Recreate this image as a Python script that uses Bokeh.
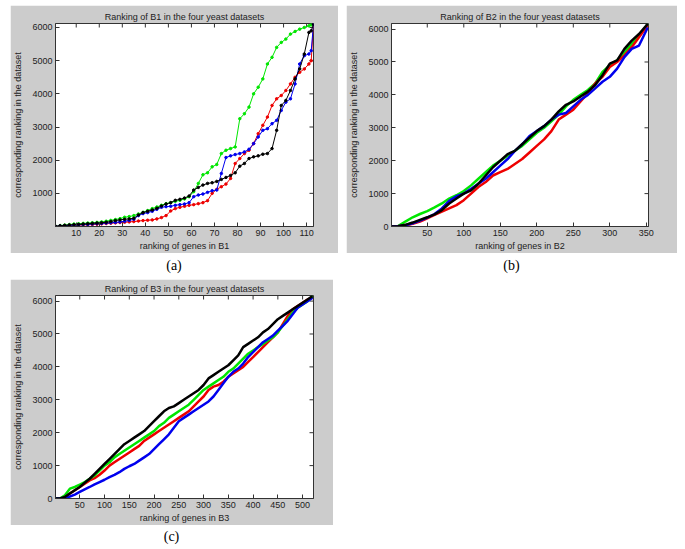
import math
from bokeh.plotting import figure
from bokeh.models import FixedTicker, Range1d, Div, Spacer
from bokeh.layouts import column, row
from bokeh.embed import file_html
from bokeh.resources import INLINE

GRAY = "#cccccc"
AX = "#333333"
FONT = "Liberation Sans"

# ---------------- Panel (a): B1 (113 genes) ----------------
a_x = [1, 3, 5, 7, 9, 11, 13, 15, 17, 19, 21, 23, 25, 27, 29, 31, 33, 35, 37, 39,
       41, 43, 45, 47, 49, 51, 53, 55, 57, 59, 61, 63, 65, 67, 69, 71, 73, 75, 77, 79,
       81, 83, 85, 87, 89, 91, 93, 95, 97, 99, 101, 103, 105, 107, 109, 111, 112, 113]
a_green = [10, 30, 45, 60, 75, 85, 95, 105, 115, 125, 140, 160, 185, 210, 240, 280, 300, 330, 380, 430,
           480, 540, 590, 640, 690, 720, 760, 790, 830, 900, 1050, 1300, 1560, 1620, 1800, 1870, 2200, 2300, 2350, 2400,
           3250, 3400, 3600, 4000, 4200, 4450, 4900, 5100, 5400, 5550, 5650, 5800, 5880, 5950, 6000, 6050, 6080, 6110]
a_red = [5, 15, 25, 35, 40, 45, 50, 55, 60, 70, 80, 90, 100, 110, 120, 130, 140, 150, 165, 180,
         190, 200, 230, 270, 330, 470, 540, 580, 610, 640, 660, 690, 720, 780, 1000, 1120, 1200, 1280, 1450, 1900,
         2050, 2200, 2300, 2500, 2800, 3050, 3300, 3650, 3850, 3950, 4100, 4300, 4500, 4650, 4750, 4900, 5000, 6100]
a_blue = [5, 15, 25, 35, 45, 50, 60, 65, 75, 85, 95, 105, 115, 125, 140, 160, 185, 220, 330, 390,
          420, 460, 520, 580, 600, 610, 640, 660, 680, 720, 900, 950, 980, 1030, 1080, 1100, 1600, 2080, 2130, 2170,
          2200, 2250, 2330, 2500, 2700, 2900, 2950, 3100, 3200, 3500, 3750, 3850, 4300, 4900, 5150, 5200, 5300, 6100]
a_black = [5, 20, 35, 45, 55, 65, 75, 85, 95, 105, 115, 130, 150, 180, 200, 220, 230, 250, 350, 420,
           460, 500, 550, 620, 680, 720, 790, 820, 860, 920, 1100, 1180, 1250, 1300, 1320, 1360, 1420, 1480, 1540, 1620,
           1820, 1900, 2050, 2100, 2130, 2180, 2200, 2350, 2900, 3650, 3800, 4100, 4450, 4750, 5200, 5850, 5900, 6100]

# ---------------- Panel (b): B2 (352 genes) ----------------
b_x = [1, 10, 20, 30, 40, 50, 60, 70, 80, 90, 100, 110, 120, 130, 140, 150, 160, 170, 180, 190,
       200, 210, 220, 230, 240, 250, 260, 270, 280, 290, 300, 310, 320, 330, 340, 352]
b_green = [0, 10, 150, 280, 380, 470, 580, 700, 850, 950, 1080, 1250, 1450, 1650, 1850, 2000, 2150, 2300, 2450, 2650,
           2850, 3000, 3200, 3400, 3650, 3850, 4000, 4150, 4350, 4700, 4900, 5050, 5300, 5550, 5800, 6150]
b_black = [0, 10, 50, 120, 200, 280, 370, 500, 700, 850, 1000, 1100, 1300, 1550, 1800, 2000, 2200, 2300, 2500, 2700,
           2900, 3050, 3250, 3500, 3700, 3800, 3950, 4100, 4300, 4600, 4950, 5050, 5400, 5650, 5850, 6160]
b_blue = [0, 10, 40, 100, 180, 270, 380, 550, 780, 920, 1000, 1150, 1300, 1450, 1650, 1850, 2050, 2300, 2500, 2750,
          2900, 3050, 3250, 3400, 3450, 3650, 3850, 4000, 4200, 4400, 4550, 4800, 5150, 5400, 5500, 6050]
b_red = [0, 5, 30, 80, 150, 250, 350, 450, 550, 650, 800, 1000, 1200, 1350, 1550, 1650, 1750, 1900, 2050, 2250,
         2450, 2650, 2900, 3250, 3400, 3550, 3800, 4050, 4350, 4550, 4850, 5000, 5200, 5450, 5750, 6120]

# ---------------- Panel (c): B3 (520 genes) ----------------
c_x = [1, 10, 20, 30, 40, 50, 60, 70, 80, 90, 100, 110, 120, 130, 140, 150, 160, 170, 180, 190,
       200, 210, 220, 230, 240, 250, 260, 270, 280, 290, 300, 310, 320, 330, 340, 350, 360, 370, 380, 390,
       400, 410, 420, 430, 440, 450, 460, 470, 480, 490, 500, 510, 520]
c_black = [0, 0, 50, 150, 250, 350, 480, 600, 750, 900, 1050, 1200, 1350, 1500, 1650, 1750, 1850, 1950, 2050, 2200,
           2350, 2500, 2650, 2750, 2800, 2900, 3000, 3100, 3200, 3300, 3450, 3650, 3750, 3850, 3950, 4050, 4200, 4350, 4600, 4700,
           4800, 4900, 5050, 5150, 5300, 5450, 5550, 5650, 5750, 5850, 5950, 6050, 6150]
c_green = [0, 0, 100, 300, 350, 420, 500, 600, 700, 850, 1000, 1100, 1250, 1350, 1450, 1550, 1650, 1750, 1850, 1950,
           2050, 2200, 2300, 2450, 2550, 2650, 2750, 2850, 3000, 3150, 3300, 3400, 3500, 3600, 3700, 3850, 3950, 4100, 4250, 4400,
           4500, 4600, 4700, 4800, 4900, 5050, 5250, 5450, 5650, 5800, 5900, 6000, 6150]
c_red = [0, 0, 50, 150, 250, 350, 450, 550, 620, 720, 850, 1000, 1100, 1200, 1300, 1400, 1500, 1600, 1750, 1850,
         1950, 2050, 2150, 2250, 2350, 2450, 2550, 2650, 2800, 2950, 3100, 3300, 3400, 3450, 3550, 3700, 3800, 3900, 4000, 4150,
         4300, 4450, 4600, 4750, 4900, 5050, 5300, 5550, 5750, 5850, 5950, 6050, 6100]
c_blue = [0, 0, 20, 60, 120, 200, 280, 350, 430, 500, 570, 650, 720, 800, 900, 980, 1050, 1150, 1250, 1350,
          1500, 1650, 1800, 1950, 2150, 2350, 2450, 2550, 2650, 2750, 2850, 2950, 3100, 3300, 3500, 3700, 3850, 3950, 4100, 4300,
          4450, 4600, 4750, 4850, 4950, 5100, 5250, 5400, 5600, 5800, 5900, 6000, 6100]

a_xticks = [10, 20, 30, 40, 50, 60, 70, 80, 90, 100, 110]
b_xticks = [50, 100, 150, 200, 250, 300, 350]
c_xticks = [50, 100, 150, 200, 250, 300, 350, 400, 450, 500]
a_yticks = [1000, 2000, 3000, 4000, 5000, 6000]
bc_yticks = [0, 1000, 2000, 3000, 4000, 5000, 6000]


def make_panel(title, xlabel, xr, yr, xticks, yticks, width, height, ml, mr, mt, mb):
    p = figure(output_backend="svg", toolbar_location=None, width=width, height=height,
               x_range=Range1d(*xr), y_range=Range1d(*yr),
               min_border_left=ml, min_border_right=mr, min_border_top=mt, min_border_bottom=mb,
               border_fill_color=GRAY, background_fill_color="white",
               outline_line_color=AX, outline_line_width=1)
    p.title.text = title
    p.title.text_font = FONT
    p.title.text_font_size = "9px"
    p.title.text_font_style = "normal"
    p.title.text_color = "#222222"
    p.title.align = "center"
    p.title.standoff = 4
    p.title.offset = 0
    p.xgrid.visible = False
    p.ygrid.visible = False
    for ax, ticks in ((p.xaxis[0], xticks), (p.yaxis[0], yticks)):
        ax.ticker = FixedTicker(ticks=ticks)
        ax.major_tick_in = 4
        ax.major_tick_out = 0
        ax.minor_tick_line_color = None
        ax.axis_line_color = AX
        ax.major_tick_line_color = AX
        ax.major_label_text_font = FONT
        ax.major_label_text_font_size = "9px"
        ax.major_label_text_color = "#222222"
        ax.major_label_standoff = 3
        ax.axis_label_text_font = FONT
        ax.axis_label_text_font_size = "9px"
        ax.axis_label_text_font_style = "normal"
        ax.axis_label_text_color = "#222222"
    p.xaxis[0].axis_label = xlabel
    p.xaxis[0].axis_label_standoff = 2
    p.yaxis[0].axis_label = "corresponding ranking in the dataset"
    p.yaxis[0].axis_label_standoff = 6
    # inward tick marks on the top and right edges of the box (MATLAB style)
    p.scatter(xticks, [yr[1]] * len(xticks), marker="dash", angle=math.pi / 2, size=8,
              line_color=AX, line_width=1)
    p.scatter([xr[1]] * len(yticks), yticks, marker="dash", size=8,
              line_color=AX, line_width=1)
    return p


def add_series(p, x, ys, colors, lw, markers):
    for y, c in zip(ys, colors):
        p.line(x, y, line_color=c, line_width=lw)
        if markers:
            p.scatter(x, y, size=2.5, color=c)


GREEN, RED, BLUE, BLACK = "#00e600", "#ee0000", "#0000ee", "#000000"

fa = make_panel("Ranking of B1 in the four yeast datasets", "ranking of genes in B1",
                (1, 113), (1, 6120), a_xticks, a_yticks, 328, 248, 42, 25, 18, 24)
add_series(fa, a_x, [a_green, a_red, a_blue, a_black], [GREEN, RED, BLUE, BLACK], 1, True)

fb = make_panel("Ranking of B2 in the four yeast datasets", "ranking of genes in B2",
                (1, 353), (0, 6170), b_xticks, bc_yticks, 331, 248, 41, 29, 18, 25)
add_series(fb, b_x, [b_green, b_red, b_blue, b_black], [GREEN, RED, BLUE, BLACK], 2.5, False)

fc = make_panel("Ranking of B3 in the four yeast datasets", "ranking of genes in B3",
                (1, 522), (0, 6170), c_xticks, bc_yticks, 323, 246, 42, 20, 15, 25)
add_series(fc, c_x, [c_red, c_green, c_blue, c_black], [RED, GREEN, BLUE, BLACK], 2.5, False)


def caption(t, w, h):
    return Div(text=t, width=w, height=h, margin=(0, 0, 0, 0),
               styles={"text-align": "center", "font-family": "Liberation Serif",
                       "font-size": "14px", "line-height": f"{h}px", "width": f"{w}px"})


root = column(
    Spacer(width=10, height=5),
    row(Spacer(width=10, height=248), fa, Spacer(width=8, height=248), fb),
    row(Spacer(width=10, height=26), caption("(a)", 328, 26), Spacer(width=8, height=26), caption("(b)", 331, 26)),
    row(Spacer(width=10, height=246), fc),
    row(Spacer(width=10, height=24), caption("(c)", 323, 24)),
)

open("out.html", "w").write(file_html(root, INLINE))
